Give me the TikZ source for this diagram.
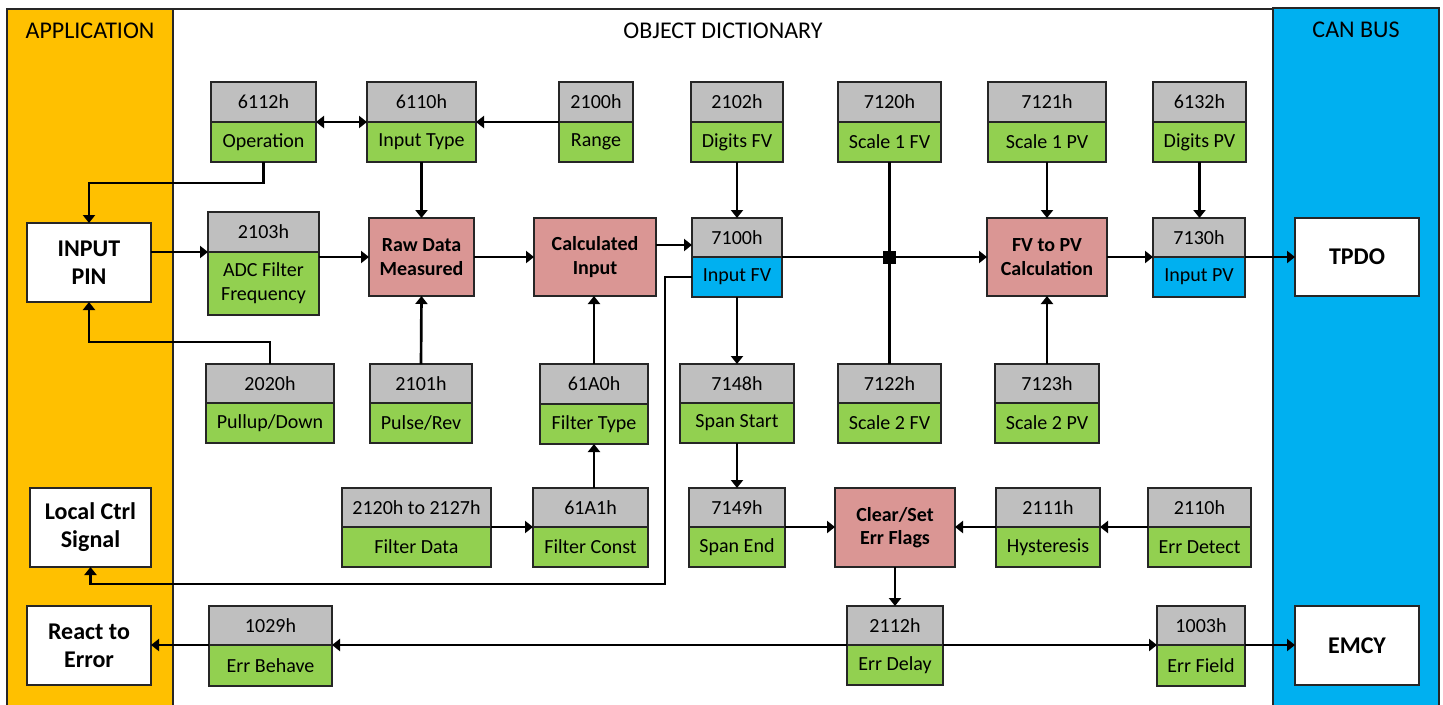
\documentclass[tikz,border=0pt]{standalone}
\usepackage{fontspec}
\setmainfont{Carlito}
\usetikzlibrary{arrows.meta,calc}
\definecolor{appY}{HTML}{FFC000}
\definecolor{canB}{HTML}{00B0F0}
\definecolor{hdrG}{HTML}{BFBFBF}
\definecolor{valG}{HTML}{92D050}
\definecolor{procR}{HTML}{DA9694}
\definecolor{bord}{HTML}{262626}
\tikzset{
 boxbase/.style={draw=bord, line width=1pt, inner sep=0pt, outer sep=0pt, align=center, font=\fontsize{15}{18}\selectfont},
 hdr/.style={boxbase, fill=hdrG},
 val/.style={boxbase, fill=valG},
 valblue/.style={boxbase, fill=canB},
 proc/.style={boxbase, fill=procR, font=\fontsize{15}{17.5}\selectfont\bfseries},
 ext/.style={boxbase, fill=white, font=\fontsize{18}{21}\selectfont\bfseries},
 arr/.style={line width=2pt, -{Triangle[length=6pt,width=9pt]}},
 barr/.style={line width=2pt, {Triangle[length=6pt,width=9pt]}-{Triangle[length=6pt,width=9pt]}},
 plainline/.style={line width=2pt},
 junc/.style={fill=black, inner sep=0pt, minimum size=9.75pt},
 paneltitle/.style={font=\fontsize{18}{21}\selectfont},
}
\newcommand\rnode[7]{\node[#1, minimum width={(#5-#3)*0.75pt}, minimum height={(#6-#4)*0.75pt}] (#2) at ({(#3+#5)/2},{(#4+#6)/2}) {#7};}
\newcommand\obj[9]{\rnode{hdr}{#1t}{#2}{#4}{#3}{#5}{#7}\rnode{#9}{#1b}{#2}{#5}{#3}{#6}{#8}}
\begin{document}
\begin{tikzpicture}[x=0.75pt,y=-0.75pt]
\useasboundingbox (0,0) rectangle (1443,704);
\clip (0,0) rectangle (1443,704);
\fill[white] (0,0) rectangle (1443,704);
\draw[line width=0.8pt, draw=bord] (7,9) -- (1273,9);
\filldraw[fill=appY, draw=bord, line width=0.8pt] (7,9) rectangle (173,712);
\filldraw[fill=canB, draw=bord, line width=0.8pt] (1273,8) rectangle (1439,712);
\node[paneltitle] (tapp) at (90,31) {APPLICATION};
\node[paneltitle] (tod) at (723,31) {OBJECT DICTIONARY};
\node[paneltitle] (tcan) at (1356,30) {CAN BUS};

\obj{n6112}{211}{316}{82}{122}{162}{6112h}{Operation}{val}
\obj{n6110}{367}{476}{82}{122}{162}{6110h}{Input Type}{val}
\obj{n2100}{559}{633}{82}{122}{162}{2100h}{Range}{val}
\obj{n2102}{691}{783}{82}{122}{162}{2102h}{Digits FV}{val}
\obj{n7120}{838}{941}{82}{122}{162}{7120h}{Scale 1 FV}{val}
\obj{n7121}{988}{1106}{82}{122}{162}{7121h}{Scale 1 PV}{val}
\obj{n6132}{1153}{1246}{82}{122}{162}{6132h}{Digits PV}{val}

\obj{n2103}{208}{319}{212}{252}{315}{2103h}{ADC Filter\\Frequency}{val}
\rnode{proc}{raw}{369}{218}{474}{296}{Raw Data\\Measured}
\rnode{proc}{calc}{534}{218}{656}{296}{Calculated\\Input}
\obj{n7100}{692}{782}{218}{257}{297}{7100h}{Input FV}{valblue}
\rnode{proc}{fvpv}{987}{218}{1107}{296}{FV to PV\\Calculation}
\obj{n7130}{1153}{1245}{218}{257}{297}{7130h}{Input PV}{valblue}
\rnode{ext}{inpin}{27}{223}{151}{302}{INPUT\\PIN}
\rnode{ext}{tpdo}{1295}{218}{1419}{296}{TPDO}

\obj{n2020}{206}{334}{364}{403}{443}{2020h}{Pullup/Down}{val}
\obj{n2101}{370}{472}{364}{403}{443}{2101h}{Pulse/Rev}{val}
\obj{n61A0}{540}{648}{364}{404}{444}{61A0h}{Filter Type}{val}
\obj{n7148}{680}{794}{364}{403}{443}{7148h}{Span Start}{val}
\obj{n7122}{838}{941}{364}{403}{443}{7122h}{Scale 2 FV}{val}
\obj{n7123}{995}{1099}{364}{403}{443}{7123h}{Scale 2 PV}{val}

\rnode{ext}{local}{30}{488}{151}{567}{Local Ctrl\\Signal}
\obj{n2120}{342}{491}{488}{527}{567}{2120h to 2127h}{Filter Data}{val}
\obj{n61A1}{533}{648}{488}{527}{567}{61A1h}{Filter Const}{val}
\obj{n7149}{689}{785}{488}{527}{567}{7149h}{Span End}{val}
\rnode{proc}{clear}{835}{488}{955}{567}{Clear/Set\\Err Flags}
\obj{n2111}{996}{1100}{488}{527}{567}{2111h}{Hysteresis}{val}
\obj{n2110}{1148}{1251}{488}{527}{567}{2110h}{Err Detect}{val}

\rnode{ext}{react}{27}{606}{151}{685}{React to\\Error}
\obj{n1029}{209}{332}{606}{645}{686}{1029h}{Err Behave}{val}
\obj{n2112}{847}{943}{606}{645}{685}{2112h}{Err Delay}{val}
\obj{n1003}{1157}{1245}{606}{645}{686}{1003h}{Err Field}{val}
\rnode{ext}{emcy}{1295}{606}{1419}{685}{EMCY}

\draw[barr] (n6112t.south east) -- (n6110t.south west);
\draw[arr] (n2100t.south west) -- (n6110t.south east);
\draw[arr] (n6112b.south) -- ++(0,21) -| (inpin.north);
\draw[arr] (n2020t.north) -- ++(0,-22) -| (inpin.south);
\draw[arr] (n2103t.south west -| inpin.east) -- (n2103t.south west);
\draw[arr] (n2103b.east |- raw.west) -- (raw.west);
\draw[arr] (raw.east) -- (calc.west);
\draw[arr] ([yshift=9pt]calc.east) -- ([yshift=9pt]calc.east -| n7100t.west);
\draw[arr] (n6110b.south) -- (raw.north);
\draw[arr] (n2101t.north) -- (raw.south);
\draw[arr] (n61A0t.north) -- (n61A0t.north |- calc.south);
\draw[arr] (n61A0b.south |- n61A1t.north) -- (n61A0b.south);
\draw[arr] (n2120t.south east) -- (n61A1t.south west);
\draw[arr] (n2102b.south) -- (n7100t.north);
\draw[plainline] (n7120b.south) -- (n7122t.north);
\draw[arr] (n7100t.south east) -- (fvpv.west);
\node[junc] (jn) at (n7120b.south |- n7100t.south) {};
\draw[arr] (n7121b.south) -- (fvpv.north);
\draw[arr] (n7123t.north) -- (fvpv.south);
\draw[arr] (fvpv.east) -- (n7130t.south west);
\draw[arr] (n6132b.south) -- (n6132b.south |- n7130t.north);
\draw[arr] (n7130t.south east) -- (tpdo.west);
\coordinate (lc) at (665,584);
\draw[arr] (n7100b.west) -| (lc) -| (local.south);
\draw[arr] (n7100b.south) -- (n7148t.north);
\draw[arr] (n7148b.south) -- (n7148b.south |- n7149t.north);
\draw[arr] (n7149t.south east) -- (n7149t.south east -| clear.west);
\draw[arr] (n2111t.south west) -- (n2111t.south west -| clear.east);
\draw[arr] (n2110t.south west) -- (n2111t.south east);
\draw[arr] (clear.south) -- (n2112t.north);
\draw[arr] (n2112t.south west) -- (n1029t.south east);
\draw[arr] (n1029t.south west) -- (n1029t.south west -| react.east);
\draw[arr] (n2112t.south east) -- (n1003t.south west);
\draw[arr] (n1003t.south east) -- (n1003t.south east -| emcy.west);
\end{tikzpicture}
\end{document}
